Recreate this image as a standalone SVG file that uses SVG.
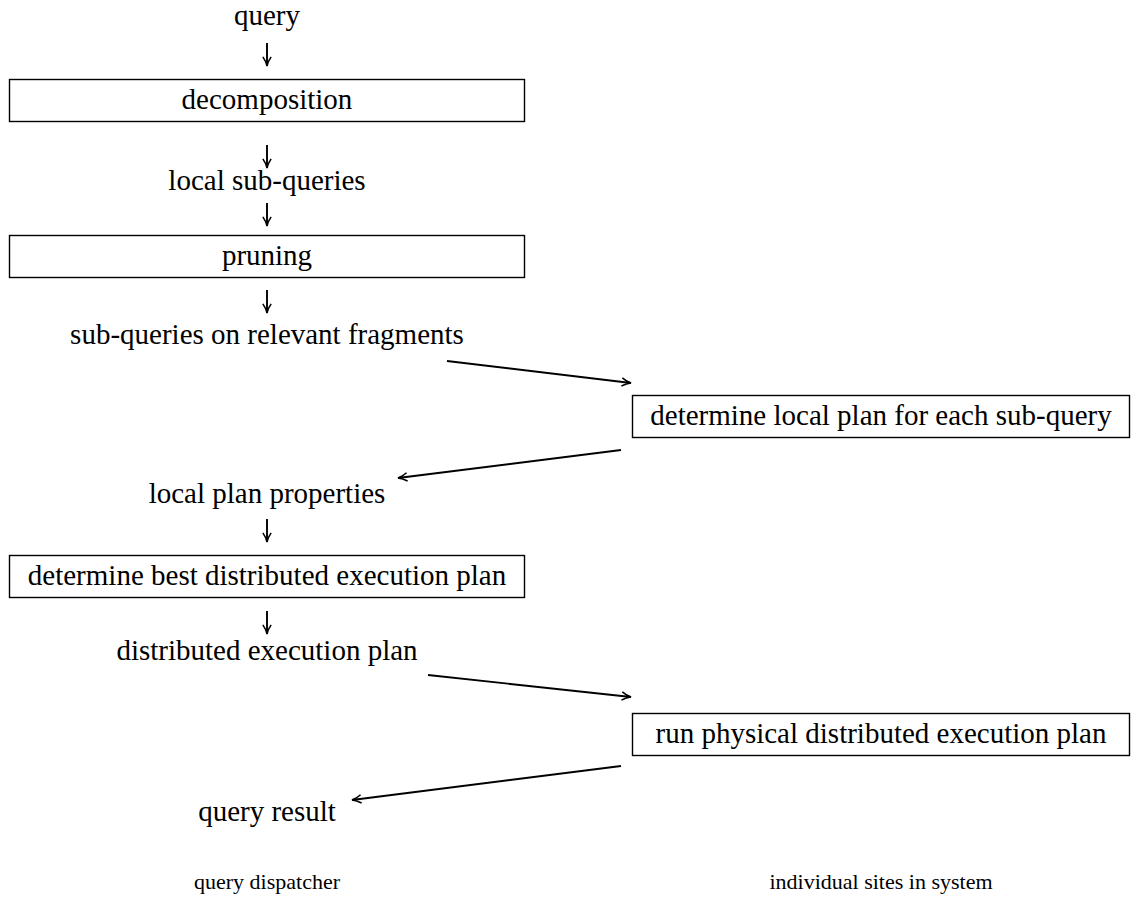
<svg xmlns="http://www.w3.org/2000/svg" width="1140" height="899" viewBox="0 0 1140 899">
  <style>
    .t { font-family: "Liberation Serif", "DejaVu Serif", serif; font-size: 29px; fill: #000; text-anchor: middle; }
    .s { font-family: "Liberation Serif", "DejaVu Serif", serif; font-size: 22px; fill: #000; text-anchor: middle; }
    .box { fill: #fff; stroke: #000; stroke-width: 1.4; }
    .edge { fill: none; stroke: #000; stroke-width: 1.9; }
  </style>
  <defs>
    <marker id="arr" viewBox="0 0 12 12" refX="11" refY="6" markerWidth="11" markerHeight="11" markerUnits="userSpaceOnUse" orient="auto">
      <path d="M1,1.5 Q6,5 11,6 Q6,7 1,10.5" fill="none" stroke="#000" stroke-width="1.7"/>
    </marker>
  </defs>
  <rect width="1140" height="899" fill="#fff"/>

  <!-- flow connectors -->
  <g id="connectors">
    <line class="edge" x1="267" y1="43" x2="267" y2="66" marker-end="url(#arr)"/>
    <line class="edge" x1="267" y1="145" x2="267" y2="168" marker-end="url(#arr)"/>
    <line class="edge" x1="267" y1="203" x2="267" y2="226" marker-end="url(#arr)"/>
    <line class="edge" x1="267" y1="290" x2="267" y2="313" marker-end="url(#arr)"/>
    <line class="edge" x1="447" y1="361" x2="631" y2="383" marker-end="url(#arr)"/>
    <line class="edge" x1="621" y1="450" x2="398" y2="478" marker-end="url(#arr)"/>
    <line class="edge" x1="267" y1="519" x2="267" y2="542" marker-end="url(#arr)"/>
    <line class="edge" x1="267" y1="611" x2="267" y2="634" marker-end="url(#arr)"/>
    <line class="edge" x1="428" y1="675" x2="631" y2="697" marker-end="url(#arr)"/>
    <line class="edge" x1="621" y1="766" x2="352" y2="800" marker-end="url(#arr)"/>
  </g>

  <g id="query"><text class="t" x="267" y="25">query</text></g>
  <g id="decomposition">
    <rect class="box" x="9.5" y="79.5" width="515" height="42"/>
    <text class="t" x="267" y="109">decomposition</text>
  </g>
  <g id="local-sub-queries"><text class="t" x="267" y="190">local sub-queries</text></g>
  <g id="pruning">
    <rect class="box" x="9.5" y="235.5" width="515" height="42"/>
    <text class="t" x="267" y="265">pruning</text>
  </g>
  <g id="relevant-sub-queries"><text class="t" x="267" y="344">sub-queries on relevant fragments</text></g>
  <g id="local-plan">
    <rect class="box" x="632.5" y="395.5" width="497" height="42"/>
    <text class="t" x="881" y="425">determine local plan for each sub-query</text>
  </g>
  <g id="local-plan-properties"><text class="t" x="267" y="503">local plan properties</text></g>
  <g id="best-plan">
    <rect class="box" x="9.5" y="555.5" width="515" height="42"/>
    <text class="t" x="267" y="585">determine best distributed execution plan</text>
  </g>
  <g id="distributed-plan"><text class="t" x="267" y="660">distributed execution plan</text></g>
  <g id="run-plan">
    <rect class="box" x="632.5" y="713.5" width="497" height="42"/>
    <text class="t" x="881" y="743">run physical distributed execution plan</text>
  </g>
  <g id="query-result"><text class="t" x="267" y="821">query result</text></g>

  <!-- column captions -->
  <g id="dispatcher-label"><text class="s" x="267" y="889">query dispatcher</text></g>
  <g id="sites-label"><text class="s" x="881" y="889">individual sites in system</text></g>
</svg>
